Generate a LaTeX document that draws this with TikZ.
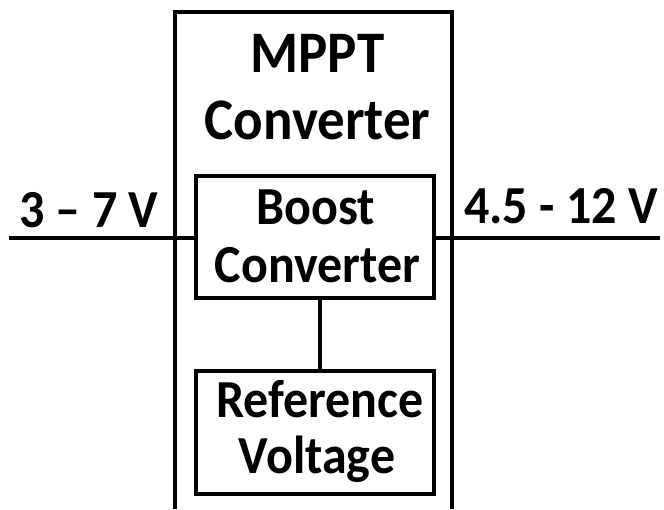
\documentclass[tikz,border=0pt]{standalone}
\usepackage{fontspec}
\setmainfont{Carlito}
\newcommand{\tallbox}[1]{\scalebox{1}[1.07]{#1}}
\begin{document}
\begin{tikzpicture}[x=1pt,y=-1pt,
  wire/.style={line width=3.5pt},
  blockbox/.style={draw,line width=3.5pt,inner sep=0pt},
  title/.style={inner sep=0pt,anchor=base,font=\fontsize{55}{66}\selectfont\bfseries},
  boxtext/.style={inner sep=0pt,anchor=base,font=\fontsize{50}{58}\selectfont\bfseries},
  vlabel/.style={inner sep=0pt,anchor=base west,font=\fontsize{50}{58}\selectfont\bfseries}]
\useasboundingbox (0,0) rectangle (664,509);
% outer MPPT box (open at the bottom)
\draw[wire,line join=miter] (175,509) -- (175,12) -- (452,12) -- (452,509);
\node[title] (t1) at (317.5,72) {\tallbox{MPPT}};
\node[title] (t2) at (317.5,139) {\tallbox{Converter}};
% inner blocks
\node[blockbox,minimum width=238pt,minimum height=122pt] (boost) at (315,237) {};
\node[boxtext] (b1) at (316,224) {\tallbox{Boost}};
\node[boxtext] (b2) at (317.5,282) {\tallbox{Converter}};
\node[blockbox,minimum width=238pt,minimum height=123pt] (ref) at (315,432.5) {};
\node[boxtext] (r1) at (320,417) {\tallbox{Reference}};
\node[boxtext] (r2) at (317,473) {\tallbox{Voltage}};
\draw[wire] ([xshift=5pt]boost.south) -- ([xshift=5pt]ref.north);
% terminals
\coordinate (inl) at (9,238);
\coordinate (outr) at (660,238);
\draw[wire] (inl) -- (boost.west|-inl);
\draw[wire] (boost.east|-outr) -- (outr);
\node[vlabel] (vin) at (19,227) {\tallbox{3 – 7 V}};
\node[vlabel] (vout) at (464,223) {\tallbox{4.5 - 12 V}};
\end{tikzpicture}
\end{document}
